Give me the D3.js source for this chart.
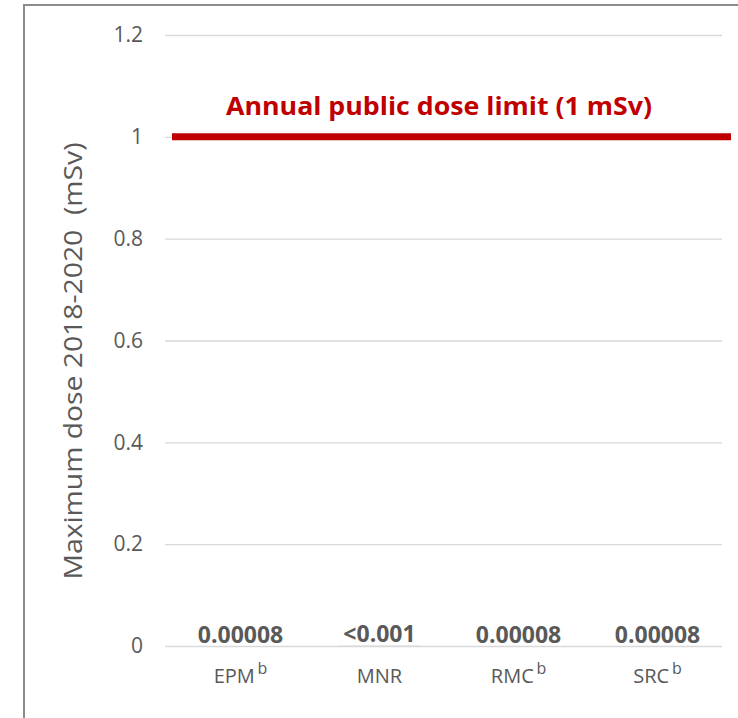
<!DOCTYPE html>
<html>
<head>
<meta charset="utf-8">
<script src="https://cdn.jsdelivr.net/npm/d3@7"></script>
<style>
  html, body { margin: 0; padding: 0; background: #fff; }
  svg { display: block; }
  text { font-family: "Open Sans", "Noto Sans", sans-serif; }
</style>
</head>
<body>
<svg id="chart" width="738" height="718"></svg>
<script>
// Sites and their maximum dose (mSv), with the label printed above each bar
const sites = ["EPM", "MNR", "RMC", "SRC"];
const footnotes = ["b", "", "b", "b"];
const doses = [0.00008, 0.001, 0.00008, 0.00008];
const doseLabels = ["0.00008", "<0.001", "0.00008", "0.00008"];
const yTicks = [0, 0.2, 0.4, 0.6, 0.8, 1, 1.2];
const limitValue = 1;
const limitLabel = "Annual public dose limit (1 mSv)";
const yTitle = "Maximum dose 2018-2020\u00A0 (mSv)";

const svg = d3.select("#chart");
const W = 738, H = 718;
const plot = { left: 165, right: 722, top: 35, bottom: 646 };

// Outer frame (open on the right and bottom)
svg.append("path")
  .attr("d", `M24,${H} L24,5 L${W},5`)
  .attr("fill", "none")
  .attr("stroke", "#8c8c8c")
  .attr("stroke-width", 2);

const x = d3.scaleBand().domain(sites)
  .range([plot.left + 6, plot.right + 5])
  .paddingInner(0.4).paddingOuter(0.2);
const y = d3.scaleLinear().domain([0, 1.2]).range([plot.bottom, plot.top]);

// Bars (tiny relative to the axis; drawn under the gridlines)
svg.append("g").selectAll("rect").data(sites).join("rect")
  .attr("x", d => x(d))
  .attr("width", x.bandwidth())
  .attr("y", (d, i) => y(doses[i]))
  .attr("height", (d, i) => y(0) - y(doses[i]))
  .attr("fill", "#d9d9d9");

// Horizontal gridlines and tick labels
const yAxis = d3.axisLeft(y).tickValues(yTicks).tickSize(-(plot.right - plot.left)).tickPadding(22)
  .tickFormat(d => d3.format("~g")(d));
const gy = svg.append("g").attr("transform", `translate(${plot.left},0)`).call(yAxis);
gy.select(".domain").remove();
gy.selectAll(".tick line").attr("stroke", "#d9d9d9").attr("stroke-width", 1.3);
gy.selectAll(".tick text")
  .attr("fill", "#595959")
  .style("font-size", "21px");

// Value labels
svg.append("g").selectAll("text").data(sites).join("text")
  .attr("x", d => x(d) + x.bandwidth() / 2)
  .attr("y", (d, i) => y(doses[i]) - 3)
  .attr("text-anchor", "middle")
  .attr("fill", "#595959")
  .style("font-size", "23px")
  .style("font-weight", "bold")
  .text((d, i) => doseLabels[i]);

// Category labels with footnote markers
const cat = svg.append("g").selectAll("text").data(sites).join("text")
  .attr("x", d => x(d) + x.bandwidth() / 2)
  .attr("y", plot.bottom + 37)
  .attr("text-anchor", "middle")
  .attr("fill", "#595959")
  .style("font-size", "20px");
cat.append("tspan").text(d => d);
cat.append("tspan")
  .attr("dy", -9)
  .style("font-size", "16px")
  .text((d, i) => footnotes[i] ? "\u2009" + footnotes[i] : "");

// Dose limit line
svg.append("line")
  .attr("x1", 172).attr("x2", 731)
  .attr("y1", y(limitValue)).attr("y2", y(limitValue))
  .attr("stroke", "#c00000")
  .attr("stroke-width", 7);

svg.append("text")
  .attr("x", 439)
  .attr("y", y(limitValue) - 22)
  .attr("text-anchor", "middle")
  .attr("fill", "#c00000")
  .style("font-size", "25px")
  .style("font-weight", "bold")
  .attr("textLength", 426)
  .attr("lengthAdjust", "spacingAndGlyphs")
  .text(limitLabel);

// Y axis title
svg.append("text")
  .attr("transform", `translate(82,361) rotate(-90)`)
  .attr("text-anchor", "middle")
  .attr("fill", "#595959")
  .style("font-size", "26px")
  .attr("textLength", 437)
  .attr("lengthAdjust", "spacingAndGlyphs")
  .text(yTitle);
</script>
</body>
</html>
